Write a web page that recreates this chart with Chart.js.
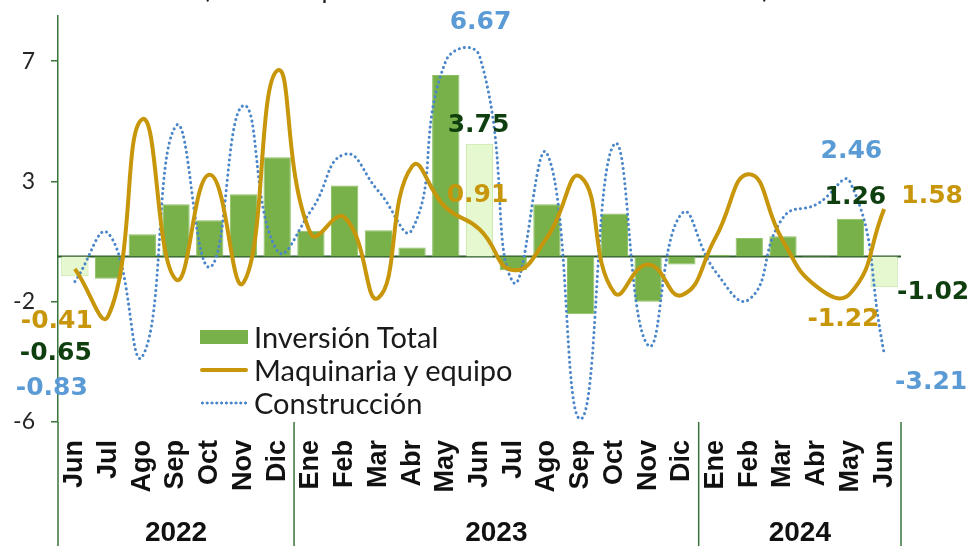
<!DOCTYPE html>
<html lang="es">
<head>
  <meta charset="UTF-8">
  <title>Inversión: variación mensual</title>
  <script src="https://cdn.jsdelivr.net/npm/chart.js"></script>
  <style>
    body {
      margin: 0;
      background: #fff;
      font-family: Lato, Arial, sans-serif;
    }
    #wrap {
      position: relative;
      width: 969px;
      height: 546px;
      overflow: hidden;
    }
    #title {
      position: absolute;
      left: 0;
      width: 972px;
      top: -25px;
      text-align: center;
      font-size: 26px;
      line-height: 26px;
      color: #222;
    }
    #legend {
      position: absolute;
      left: 200px;
      top: 320px;
      font-size: 29px;
      color: #1a1a1a;
    }
    #legend .row {
      display: flex;
      align-items: center;
      height: 33px;
    }
    #legend .sw {
      width: 48px;
      margin-right: 6px;
    }
    .sw.box { height: 14px; background: #78b04a; }
    .sw.gold { height: 4px; background: #c8960a; border-radius: 2px; }
    .sw.dots {
      height: 4px;
      background-image: radial-gradient(circle, #4a86c8 1.3px, transparent 1.8px);
      background-size: 4.8px 4px;
    }
  </style>
</head>
<body>
  <div id="wrap">
    <div id="title">(Variación porcentual mensual desestacionalizada)</div>
    <canvas id="invChart" width="969" height="546"></canvas>
    <div id="legend">
      <div class="row"><span class="sw box"></span>Inversión Total</div>
      <div class="row"><span class="sw gold"></span>Maquinaria y equipo</div>
      <div class="row"><span class="sw dots"></span>Construcción</div>
    </div>
  </div>

  <script>
    // months Jun 2022 .. Jun 2024
    const months = ["Jun", "Jul", "Ago", "Sep", "Oct", "Nov", "Dic",
      "Ene", "Feb", "Mar", "Abr", "May", "Jun", "Jul", "Ago", "Sep", "Oct", "Nov", "Dic",
      "Ene", "Feb", "Mar", "Abr", "May", "Jun"];
    const years = ["2022", "2023", "2024"];
    const monthsPerYear = [7, 12, 6];

    const inversionTotal = [-0.65, -0.74, 0.74, 1.74, 1.21, 2.07, 3.30,
      0.86, 2.36, 0.88, 0.30, 6.04, 3.75, -0.45, 1.74, -1.92, 1.43, -1.50, -0.26,
      0.06, 0.62, 0.68, 0.03, 1.26, -1.02];
    const maquinaria = [-0.41, -1.95, 4.57, -0.76, 2.72, -0.87, 6.18,
      0.75, 1.30, -1.37, 3.00, 1.63, 0.91, -0.45, 0.63, 2.65, -1.20, -0.26, -1.28,
      0.63, 2.74, 0.52, -1.00, -1.22, 1.58];
    const construccion = [-0.83, 0.76, -3.32, 4.35, -0.35, 5.02, 0.20,
      1.52, 3.40, 2.18, 0.90, 6.50, 6.67, -0.85, 3.43, -5.40, 3.74, -2.95, 1.43,
      -0.50, -1.42, 1.29, 1.74, 2.46, -3.21];

    const highlighted = [0, 12, 24];   // same month, year on year
    const yTicks = [-5.5, -1.5, 2.5, 6.5];
    const yTickLabels = ["-6", "-2", "3", "7"];

    const GREEN = "#78b04a", LIGHT = "#e5f8d0";
    const GOLD = "#c8960a", BLUE = "#4a86c8";
    const AXIS = "#3b743b";

    // value labels: dataset index, month index, offset from the point
    const valueLabels = [
      { ds: 1, i: 0, dx: -18, dy: 53 },
      { ds: 0, i: 0, dx: -19, dy: 77 },
      { ds: 2, i: 0, dx: -23, dy: 107 },
      { ds: 2, i: 12, dx: 1, dy: -33 },
      { ds: 0, i: 12, dx: -1, dy: -18 },
      { ds: 1, i: 12, dx: -2, dy: -34 },
      { ds: 2, i: 23, dx: 1, dy: -31 },
      { ds: 0, i: 23, dx: 5, dy: -21 },
      { ds: 1, i: 23, dx: -7, dy: 26 },
      { ds: 1, i: 24, dx: 48, dy: -13 },
      { ds: 0, i: 24, dx: 49, dy: 5 },
      { ds: 2, i: 24, dx: 47, dy: 29 }
    ];
    const labelColors = ["#0f3f0f", "#c8960a", "#5b9bd5"];

    const extras = {
      id: "extras",
      beforeDatasetsDraw(chart) {
        const { ctx, chartArea, scales: { y } } = chart;
        const y0 = y.getPixelForValue(0);
        ctx.save();
        ctx.strokeStyle = "#2d5a2d";
        ctx.lineWidth = 2;
        ctx.beginPath();
        ctx.moveTo(chartArea.left, y0);
        ctx.lineTo(chartArea.right, y0);
        ctx.stroke();
        ctx.restore();
      },
      afterDraw(chart) {
        const { ctx, chartArea, scales: { x, y } } = chart;
        const half = (x.getPixelForValue(1) - x.getPixelForValue(0)) / 2;
        ctx.save();
        ctx.strokeStyle = AXIS;
        ctx.lineWidth = 1.5;
        ctx.fillStyle = "#111";
        ctx.font = "bold 28px 'Liberation Sans', Arial, sans-serif";
        ctx.textAlign = "center";
        ctx.textBaseline = "middle";

        // year groups under the month labels
        ctx.beginPath();
        ctx.moveTo(chartArea.left, chartArea.bottom);
        ctx.lineTo(chartArea.left, chart.height);
        let start = 0;
        years.forEach((yr, k) => {
          const end = start + monthsPerYear[k] - 1;
          const xl = x.getPixelForValue(start) - half;
          const xr = x.getPixelForValue(end) + half;
          ctx.moveTo(xr, chartArea.bottom);
          ctx.lineTo(xr, chart.height);
          ctx.fillText(yr, (xl + xr) / 2, 533);
          start = end + 1;
        });
        ctx.stroke();

        // value labels
        ctx.font = "bold 25px 'DejaVu Sans', sans-serif";
        valueLabels.forEach(l => {
          const v = chart.data.datasets[l.ds].data[l.i];
          const px = x.getPixelForValue(l.i) + l.dx;
          const py = y.getPixelForValue(v) + l.dy;
          ctx.fillStyle = labelColors[l.ds];
          ctx.fillText(v.toFixed(2), px, py);
        });
        ctx.restore();
      }
    };

    const ctx = document.getElementById("invChart").getContext("2d");
    new Chart(ctx, {
      data: {
        labels: months,
        datasets: [
          {
            type: "bar",
            label: "Inversión Total",
            data: inversionTotal,
            backgroundColor: months.map((m, i) => highlighted.includes(i) ? LIGHT : GREEN),
            borderColor: months.map((m, i) => highlighted.includes(i) ? "#bfe39c" : "#8cc062"),
            borderWidth: 1,
            barPercentage: 0.81,
            categoryPercentage: 1,
            order: 3
          },
          {
            type: "line",
            label: "Maquinaria y equipo",
            data: maquinaria,
            borderColor: GOLD,
            borderWidth: 4,
            tension: 0.5,
            pointRadius: 0,
            fill: false,
            order: 1
          },
          {
            type: "line",
            label: "Construcción",
            data: construccion,
            borderColor: BLUE,
            borderWidth: 3,
            borderDash: [0.1, 5],
            borderCapStyle: "round",
            tension: 0.5,
            pointRadius: 0,
            fill: false,
            order: 2
          }
        ]
      },
      options: {
        responsive: false,
        animation: false,
        layout: { padding: { top: 16, right: 68, left: 0, bottom: 0 } },
        plugins: {
          legend: { display: false },
          tooltip: { enabled: false }
        },
        scales: {
          x: {
            type: "category",
            offset: true,
            grid: { display: false },
            border: { display: false },
            ticks: {
              autoSkip: false,
              maxRotation: 90,
              minRotation: 90,
              padding: 10,
              color: "#111",
              font: { family: "'Liberation Sans', Arial, sans-serif", size: 27, weight: "bold" }
            },
            afterFit(scale) {
              scale.height = 124;
              scale.paddingLeft = 0;
              scale.paddingRight = 0;
            }
          },
          y: {
            min: -5.5,
            max: 8,
            afterBuildTicks(scale) { scale.ticks = yTicks.map(v => ({ value: v })); },
            grid: {
              drawOnChartArea: false,
              drawTicks: true,
              tickLength: 7,
              color: AXIS,
              lineWidth: 1.5
            },
            border: { display: true, color: AXIS, width: 1.5 },
            ticks: {
              padding: 16,
              color: "#262626",
              font: { family: "Lato, sans-serif", size: 23 },
              callback: (v, i) => yTickLabels[i]
            },
            afterFit(scale) {
              scale.width = 58;
              scale.paddingTop = 0;
              scale.paddingBottom = 0;
            }
          }
        }
      },
      plugins: [extras]
    });
  </script>
</body>
</html>
